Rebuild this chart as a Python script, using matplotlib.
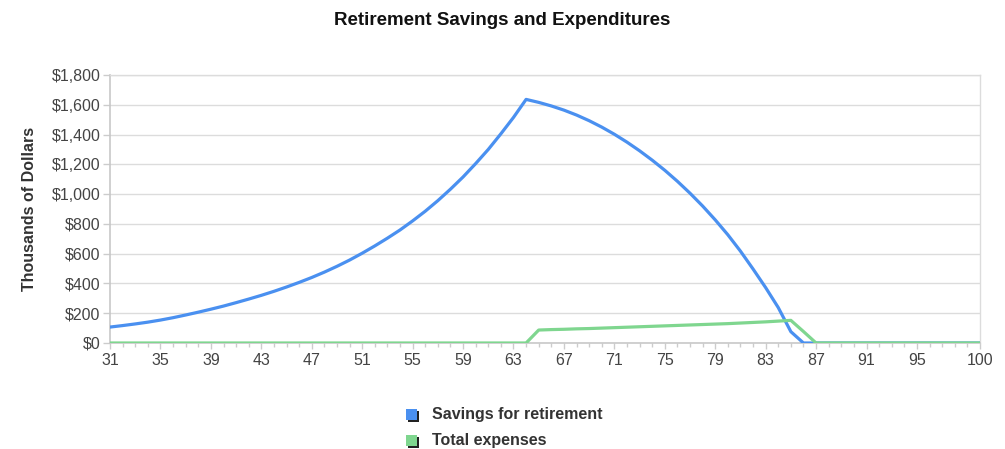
import matplotlib
matplotlib.use("Agg")
import matplotlib.pyplot as plt
from matplotlib.patches import Rectangle
from matplotlib.ticker import FuncFormatter, MultipleLocator, FixedLocator

plt.rcParams['font.family'] = ['Liberation Sans', 'DejaVu Sans']

ages = list(range(31, 101))

savings = [
    107, 117, 128, 140, 154, 170, 188, 207, 227, 248,      # 31-40
    271, 295, 320, 347, 376, 407, 440, 476, 515, 557,      # 41-50
    603, 652, 704, 759, 820, 885, 956, 1033, 1115, 1205,   # 51-60
    1300, 1405, 1515, 1636, 1616, 1592, 1564, 1531, 1493, 1450,  # 61-70
    1402, 1349, 1291, 1228, 1160, 1086, 1006, 920, 827, 727,     # 71-80
    617, 497, 372, 238, 76, 0, 0, 0, 0, 0,                 # 81-90
    0, 0, 0, 0, 0, 0, 0, 0, 0, 0,                          # 91-100
]

expenses = [
    0, 0, 0, 0, 0, 0, 0, 0, 0, 0,                          # 31-40
    0, 0, 0, 0, 0, 0, 0, 0, 0, 0,                          # 41-50
    0, 0, 0, 0, 0, 0, 0, 0, 0, 0,                          # 51-60
    0, 0, 0, 0, 87, 90, 92, 95, 97, 100,                   # 61-70
    103, 106, 109, 112, 115, 118, 121, 124, 127, 130,      # 71-80
    134, 138, 142, 147, 152, 77, 0, 0, 0, 0,               # 81-90
    0, 0, 0, 0, 0, 0, 0, 0, 0, 0,                          # 91-100
]

x_tick_labels = [31, 35, 39, 43, 47, 51, 55, 59, 63, 67, 71, 75, 79, 83, 87, 91, 95, 100]

series_names = ["Savings for retirement", "Total expenses"]
series_colors = ["#4a90f0", "#7fd68f"]

fig = plt.figure(figsize=(10.05, 4.49), dpi=100)
ax = fig.add_axes([0.1095, 0.2361, 0.8656, 0.5969])

ax.plot(ages, savings, color=series_colors[0], lw=2.3, solid_joinstyle='round', zorder=3)
ax.plot(ages, expenses, color=series_colors[1], lw=2.3, solid_joinstyle='round', zorder=4)

ax.set_xlim(31, 100)
ax.set_ylim(0, 1800)

ax.yaxis.set_major_locator(MultipleLocator(200))
ax.yaxis.set_major_formatter(FuncFormatter(lambda v, p: "${:,.0f}".format(v)))
ax.xaxis.set_major_locator(FixedLocator(x_tick_labels))
ax.xaxis.set_minor_locator(MultipleLocator(1))

ax.grid(axis='y', color='#dcdcdc', lw=1.0, zorder=0)
for side in ['top', 'right']:
    ax.spines[side].set_color('#dcdcdc')
    ax.spines[side].set_linewidth(1.0)
for side in ['left', 'bottom']:
    ax.spines[side].set_color('#c8c8c8')
    ax.spines[side].set_linewidth(1.2)

ax.tick_params(axis='both', which='both', labelsize=11.5, labelcolor='#444444', color='#cccccc')
ax.tick_params(axis='y', length=5, width=1, pad=2)
ax.tick_params(axis='x', which='major', length=4, width=1, pad=3)
ax.tick_params(axis='x', which='minor', length=3, width=1)

ax.set_ylabel("Thousands of Dollars", fontsize=11.5, fontweight='bold', color='#333333')
ax.yaxis.set_label_coords(-0.084, 0.5)

fig.text(0.5, 0.955, "Retirement Savings and Expenditures", ha='center', va='center',
         fontsize=13.5, fontweight='bold', color='#111111')

# legend with shadowed color keys
leg_y = [0.077, 0.019]
for name, color, yy in zip(series_names, series_colors, leg_y):
    w = 11 / 1005
    h = 11 / 449
    x0 = 406 / 1005
    fig.patches.append(Rectangle((x0 + 2 / 1005, yy - 2 / 449 - h / 2), w, h, transform=fig.transFigure,
                                 facecolor='#222222', edgecolor='none'))
    fig.patches.append(Rectangle((x0, yy - h / 2), w, h, transform=fig.transFigure,
                                 facecolor=color, edgecolor='none'))
    fig.text(432 / 1005, yy, name, ha='left', va='center', fontsize=11.5,
             fontweight='bold', color='#333333')

fig.savefig("out.png", dpi=100, facecolor='white')
